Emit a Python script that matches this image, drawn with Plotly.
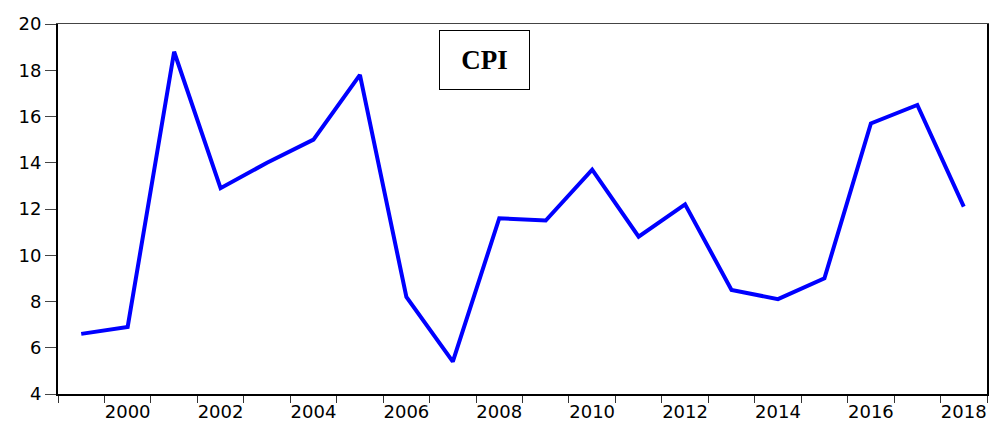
import plotly.graph_objects as go

years = list(range(1999, 2019))
cpi = [6.6, 6.9, 18.8, 12.9, 14.0, 15.0, 17.8, 8.2, 5.4, 11.6,
       11.5, 13.7, 10.8, 12.2, 8.5, 8.1, 9.0, 15.7, 16.5, 12.1]
x_labels = [str(y) for y in range(2000, 2019, 2)]
y_ticks = [4, 6, 8, 10, 12, 14, 16, 18, 20]

fig = go.Figure()
fig.add_trace(go.Scatter(x=years, y=cpi, mode="lines",
                         line=dict(color="#0000FF", width=4)))

tick_font = dict(family="DejaVu Sans, Verdana", size=18, color="black")

fig.update_layout(
    width=992, height=421,
    margin=dict(l=58, r=5, t=24, b=27),
    paper_bgcolor="white", plot_bgcolor="white",
    showlegend=False,
    font=tick_font,
    xaxis=dict(
        range=[1998.5, 2018.5], automargin=False,
        tickvals=[int(v) for v in x_labels], ticktext=x_labels,
        ticks="", showgrid=False, zeroline=False,
        showline=True, linecolor="black", linewidth=2, mirror=False,
        tickfont=tick_font,
        minor=dict(tick0=1998.5, dtick=1, ticks="outside", ticklen=7,
                   tickcolor="#333", tickwidth=1, showgrid=False),
    ),
    xaxis2=dict(range=[1998.5, 2018.5], overlaying="x", side="top",
                showticklabels=False, ticks="", showgrid=False, automargin=False,
                showline=True, linecolor="#444", linewidth=1, zeroline=False),
    yaxis=dict(
        range=[4, 20], tickvals=y_ticks, automargin=False,
        ticks="outside", ticklen=11, tickcolor="#444", tickwidth=1,
        showgrid=False, zeroline=False,
        showline=True, linecolor="black", linewidth=2,
        tickfont=tick_font,
    ),
    yaxis2=dict(range=[4, 20], overlaying="y", side="right", automargin=False,
                showticklabels=False, ticks="", showgrid=False,
                showline=True, linecolor="black", linewidth=2, zeroline=False),
)
fig.add_trace(go.Scatter(x=[None], y=[None], xaxis="x2", yaxis="y2",
                         showlegend=False, hoverinfo="skip"))

fig.add_annotation(
    x=0.459, y=0.903, xref="paper", yref="paper",
    xanchor="center", yanchor="middle",
    text="<b>CPI</b>", showarrow=False,
    font=dict(family="Liberation Serif, Times New Roman", size=27, color="black"),
    bordercolor="black", borderwidth=1, bgcolor="white",
    width=87, height=56,
)

fig.write_html("out.html", config={"displayModeBar": False},
               post_script="document.body.style.margin='0';document.body.style.overflow='hidden';")
